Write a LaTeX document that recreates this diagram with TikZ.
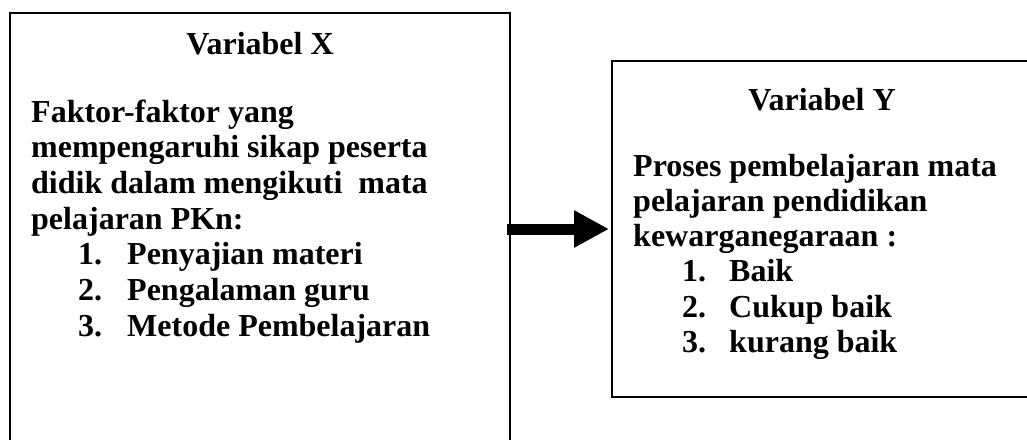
\documentclass[tikz,border=0pt]{standalone}
\usepackage{fontspec}
\setmainfont{Liberation Serif}
\usetikzlibrary{arrows.meta}
\tikzset{
  frame/.style={draw=black, line width=2pt},
  txt/.style={anchor=base west, inner sep=0pt, font=\fontsize{32}{36}\selectfont\bfseries},
  ttl/.style={anchor=base, inner sep=0pt, font=\fontsize{32}{36}\selectfont\bfseries},
  bigarrow/.style={line width=11pt, -{Triangle[length=35pt,width=35pt]}}
}
\begin{document}
\begin{tikzpicture}[x=1pt,y=-1pt]
\useasboundingbox (0,0) rectangle (1027,439);
\clip (0,0) rectangle (1027,439);
% boxes
\draw[frame] (10,13) rectangle (510,470);
\draw[frame] (612,61) rectangle (1032,397);
% left box text
\node[ttl] (tx) at (260,54) {Variabel X};
\node[txt] (l1) at (31,122) {Faktor-faktor yang};
\node[txt] (l2) at (31,157.7) {mempengaruhi sikap peserta};
\node[txt] (l3) at (31,193.4) {didik dalam mengikuti\ \ mata};
\node[txt] (l4) at (31,229.1) {pelajaran PKn:};
\node[txt] (n1) at (78,264.8) {1.};
\node[txt] (i1) at (127,264.8) {Penyajian materi};
\node[txt] (n2) at (78,300.5) {2.};
\node[txt] (i2) at (127,300.5) {Pengalaman guru};
\node[txt] (n3) at (78,336.2) {3.};
\node[txt] (i3) at (127,336.2) {Metode Pembelajaran};
% right box text
\node[ttl] (ty) at (822,110) {Variabel Y};
\node[txt] (r1) at (633,176) {Proses pembelajaran mata};
\node[txt] (r2) at (633,211.3) {pelajaran pendidikan};
\node[txt] (r3) at (633,246.6) {kewarganegaraan :};
\node[txt] (m1) at (682,281.9) {1.};
\node[txt] (j1) at (729,281.9) {Baik};
\node[txt] (m2) at (682,317.2) {2.};
\node[txt] (j2) at (729,317.2) {Cukup baik};
\node[txt] (m3) at (682,352.5) {3.};
\node[txt] (j3) at (729,352.5) {kurang baik};
% connector
\coordinate (from) at (507,229);
\coordinate (to) at (609,229);
\draw[bigarrow] (from) -- (to);
\end{tikzpicture}
\end{document}
